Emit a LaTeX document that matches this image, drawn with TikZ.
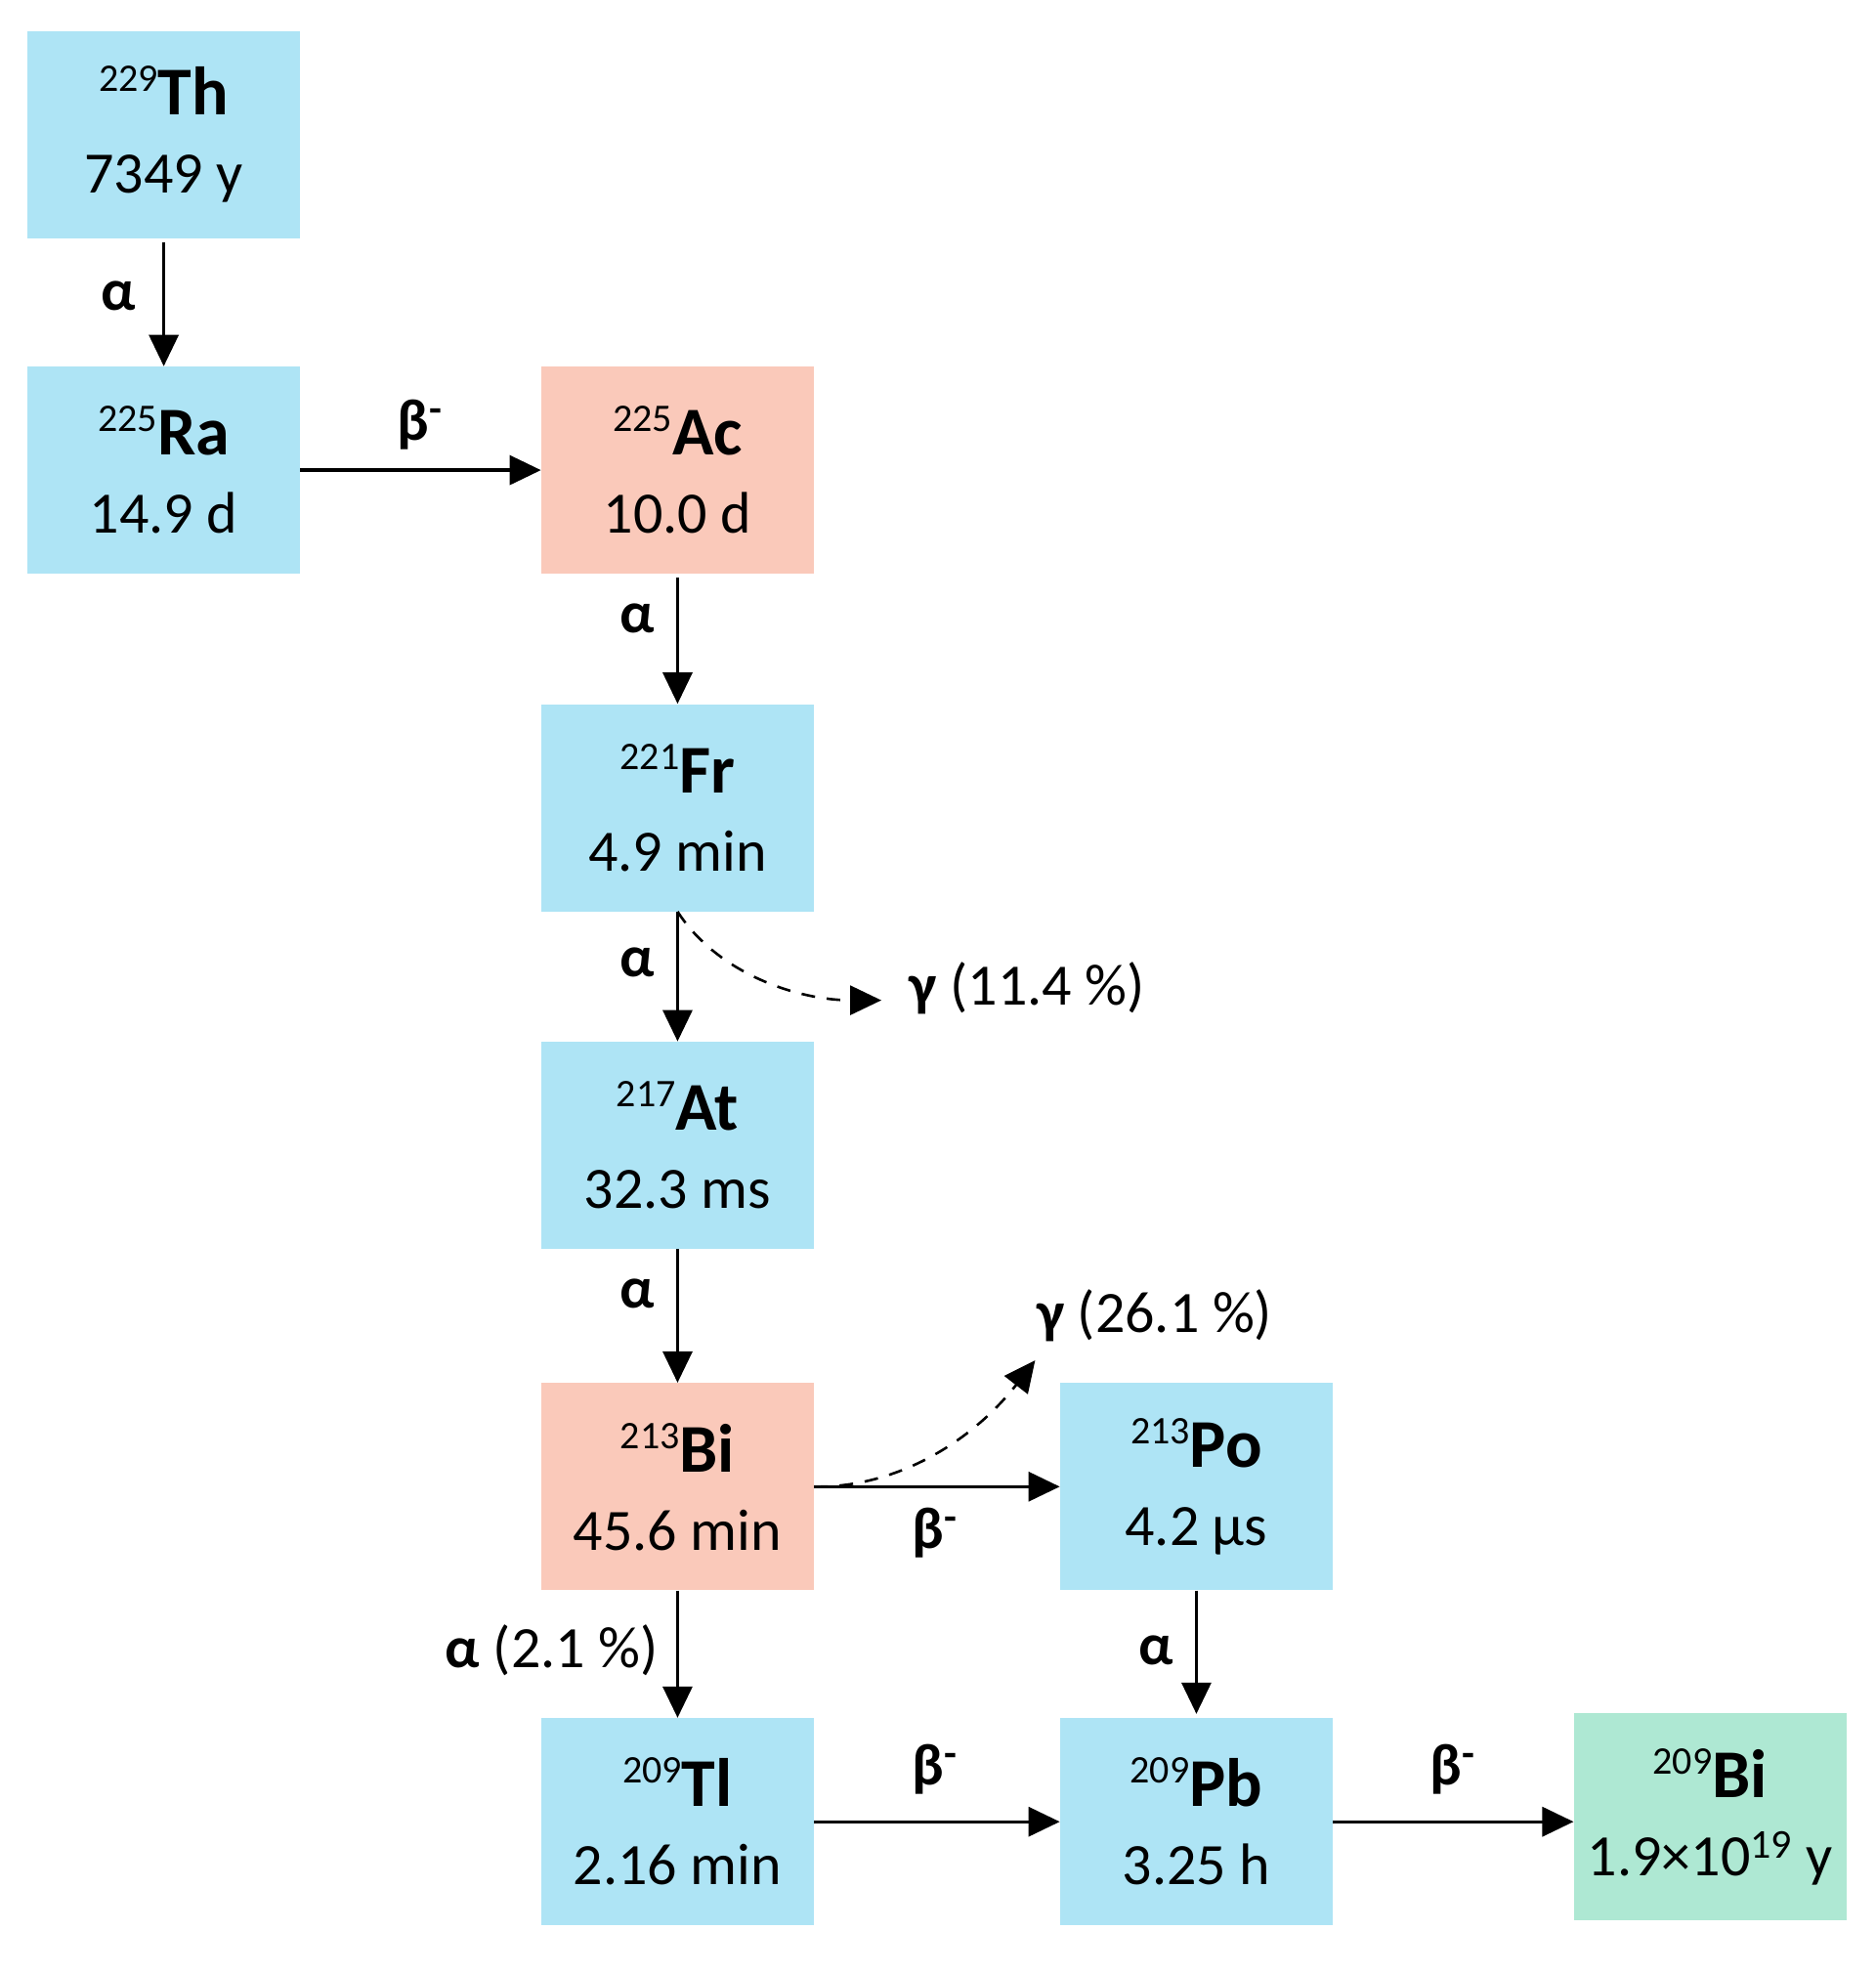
\documentclass[tikz,border=0pt]{standalone}
\usepackage{fontspec}
\setmainfont{Carlito}
\usetikzlibrary{arrows.meta}
\definecolor{cblue}{HTML}{AEE4F5}
\definecolor{csalmon}{HTML}{FAC9BA}
\definecolor{cgreen}{HTML}{AEE8D3}
\begin{document}
\begin{tikzpicture}[x=0.64pt,y=-0.64pt,
  nuc/.style={minimum width=139.5pt,minimum height=106pt,inner sep=0pt,align=center,font=\fontsize{30}{40}\selectfont},
  arr/.style={line width=1.6pt,-{Triangle[length=16pt,width=15pt]}},
  garr/.style={line width=1.3pt,dash pattern=on 7pt off 6pt,-{Triangle[length=16pt,width=15pt]}},
  lbl/.style={font=\fontsize{30}{36}\selectfont\bfseries}]
\useasboundingbox (0,0) rectangle (1500,1578);
\newcommand{\nucl}[3]{{\fontsize{20}{20}\selectfont\raisebox{12pt}{#1}}{\fontsize{35}{40}\selectfont\bfseries #2}\\#3}
\node[nuc,fill=cblue] (th) at (131,107.5) {\nucl{229}{Th}{7349 y}};
\node[nuc,fill=cblue] (ra) at (131,376) {\nucl{225}{Ra}{14.9 d}};
\node[nuc,fill=csalmon] (ac) at (542,376) {\nucl{225}{Ac}{10.0 d}};
\node[nuc,fill=cblue] (fr) at (542,646) {\nucl{221}{Fr}{4.9 min}};
\node[nuc,fill=cblue] (at) at (542,916) {\nucl{217}{At}{32.3 ms}};
\node[nuc,fill=csalmon] (bi) at (542,1189) {\nucl{213}{Bi}{45.6 min}};
\node[nuc,fill=cblue] (po) at (957,1189) {\nucl{213}{Po}{4.2 μs}};
\node[nuc,fill=cblue] (tl) at (542,1457) {\nucl{209}{Tl}{2.16 min}};
\node[nuc,fill=cblue] (pb) at (957,1457) {\nucl{209}{Pb}{3.25 h}};
\node[nuc,fill=cgreen] (bif) at (1368,1453) {\nucl{209}{Bi}{1.9×10\textsuperscript{19} y}};

\draw[arr] ([yshift=-2pt]th.south) -- (ra.north);
\draw[arr] (ra.east) -- (ac.west |- ra.east);
\draw[arr] ([yshift=-2pt]ac.south) -- (fr.north);
\draw[arr] (fr.south) -- (at.north);
\draw[arr] (at.south) -- (bi.north);
\draw[arr] (bi.east) -- (po.west);
\draw[arr] (bi.south) -- (tl.north);
\draw[arr] (po.south) -- ([yshift=2pt]pb.north);
\draw[arr] (tl.east) -- (pb.west);
\draw[arr] (pb.east) -- (bif.west |- pb.east);

\coordinate (g1) at (705,800);
\coordinate (g2) at (828,1088);
\draw[garr] (fr.south) .. controls (575,780) and (640,800) .. (g1);
\draw[garr] (bi.east) .. controls (720,1190) and (780,1150) .. (g2);

\node[lbl] (l1) at (95,237) {α};
\node[lbl] (l2) at (336,340) {β\textsuperscript{-}};
\node[lbl] (l3) at (510,495) {α};
\node[lbl] (l4) at (510,770) {α};
\node[lbl] (l5) at (510,1035) {α};
\node[lbl] (l6) at (748,1226) {β\textsuperscript{-}};
\node[lbl,anchor=east] (l7) at (532,1320) {α \mdseries(2.1 \%)};
\node[lbl] (l8) at (925,1320) {α};
\node[lbl] (l9) at (748,1415) {β\textsuperscript{-}};
\node[lbl] (l10) at (1162,1415) {β\textsuperscript{-}};
\node[lbl,anchor=west] (l11) at (722,790) {γ \mdseries(11.4 \%)};
\node[lbl,anchor=west] (l12) at (824,1052) {γ \mdseries(26.1 \%)};
\end{tikzpicture}
\end{document}
